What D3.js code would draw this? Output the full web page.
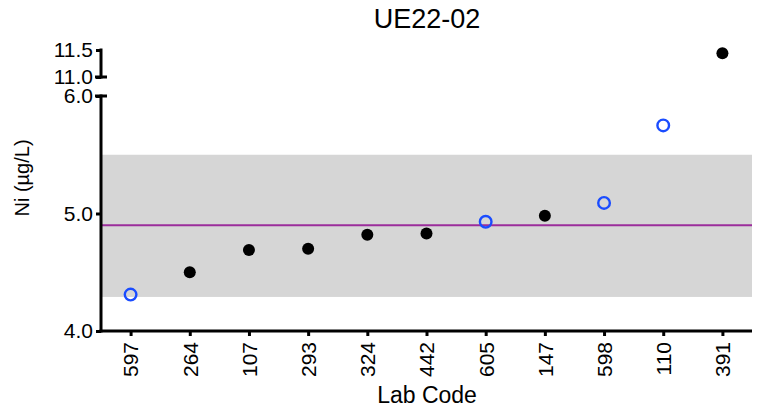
<!DOCTYPE html>
<html><head><meta charset="utf-8">
<script src="https://cdn.jsdelivr.net/npm/d3@7"></script>
<style>body{margin:0;background:#fff}text{font-family:"Liberation Sans",Arial,sans-serif}</style>
</head><body><svg id="c" width="759" height="412"></svg>
<script>
const labCodes = ["597","264","107","293","324","442","605","147","598","110","391"];
const niValues = [4.31,4.50,4.69,4.70,4.82,4.83,4.93,4.98,5.09,5.75,11.44];
const openMarker = [true,false,false,false,false,false,true,false,true,true,false];
const assignedValue = 4.90;
const bandRange = [4.29,5.50];
const lowerTicks = [4.0,5.0,6.0];
const upperTicks = [11.0,11.5];
const title = "UE22-02";

const svg = d3.select("#c");
const x = d3.scalePoint().domain(labCodes).range([101,752]).padding(0.5);
const yLow = d3.scaleLinear().domain([4.0,6.0]).range([331,96]);
const yUp = d3.scaleLinear().domain([11.0,11.5]).range([77,50]);
const yOf = v => v > 6 ? yUp(v) : yLow(v);

// band
svg.append("rect").attr("x",101).attr("width",752-101)
  .attr("y",yLow(bandRange[1])).attr("height",yLow(bandRange[0])-yLow(bandRange[1]))
  .attr("fill","#d6d6d6");
// assigned line
svg.append("line").attr("x1",101).attr("x2",752)
  .attr("y1",yLow(assignedValue)).attr("y2",yLow(assignedValue))
  .attr("stroke","#9b2d9b").attr("stroke-width",2);

// y axes
function yAxis(scale, ticks){
  const g = svg.append("g").attr("transform","translate(101,0)")
    .call(d3.axisLeft(scale).tickValues(ticks).tickFormat(d3.format(".1f")).tickSize(5).tickPadding(3));
  g.select(".domain").remove();
  g.selectAll(".tick line").attr("stroke","#000").attr("stroke-width",3);
  g.selectAll(".tick text").attr("font-size",21).attr("fill","#000")
    .attr("font-family","'Liberation Sans',Arial,sans-serif");
  return g;
}
yAxis(yLow, lowerTicks);
yAxis(yUp, upperTicks);
svg.append("line").attr("x1",101).attr("x2",101).attr("y1",yLow(6.0)-1.5).attr("y2",yLow(4.0)+1.5)
  .attr("stroke","#000").attr("stroke-width",3);
svg.append("line").attr("x1",101).attr("x2",101).attr("y1",yUp(11.5)-1.5).attr("y2",yUp(11.0)+1.5)
  .attr("stroke","#000").attr("stroke-width",3);
// break caps
svg.append("line").attr("x1",95).attr("x2",107).attr("y1",yUp(11.0)).attr("y2",yUp(11.0))
  .attr("stroke","#000").attr("stroke-width",3);
svg.append("line").attr("x1",95).attr("x2",107).attr("y1",yLow(6.0)).attr("y2",yLow(6.0))
  .attr("stroke","#000").attr("stroke-width",3);

// x axis
const gx = svg.append("g").attr("transform","translate(0,331)")
  .call(d3.axisBottom(x).tickSize(5).tickPadding(6));
gx.select(".domain").remove();
gx.selectAll(".tick line").attr("stroke","#000").attr("stroke-width",3);
gx.selectAll(".tick text").attr("font-size",21).attr("fill","#000")
  .attr("font-family","'Liberation Sans',Arial,sans-serif")
  .attr("transform","rotate(-90)").attr("text-anchor","end")
  .attr("x",-11).attr("y",0).attr("dy","0.35em");
svg.append("line").attr("x1",99.5).attr("x2",752).attr("y1",331).attr("y2",331)
  .attr("stroke","#000").attr("stroke-width",3);

// points
svg.append("g").selectAll("circle").data(labCodes).join("circle")
  .attr("cx",d=>x(d)).attr("cy",(d,i)=>yOf(niValues[i]))
  .attr("r",(d,i)=>openMarker[i]?5.8:6)
  .attr("fill",(d,i)=>openMarker[i]?"none":"#000")
  .attr("stroke",(d,i)=>openMarker[i]?"#1a4cff":"none")
  .attr("stroke-width",2.4);

// labels
svg.append("text").attr("x",427).attr("y",28).attr("text-anchor","middle")
  .attr("font-size",27).text(title);
svg.append("text").attr("x",427).attr("y",403).attr("text-anchor","middle")
  .attr("font-size",23).text("Lab Code");
svg.append("text").attr("transform","translate(29,178) rotate(-90)").attr("text-anchor","middle")
  .attr("font-size",20).text("Ni (µg/L)");
</script></body></html>
